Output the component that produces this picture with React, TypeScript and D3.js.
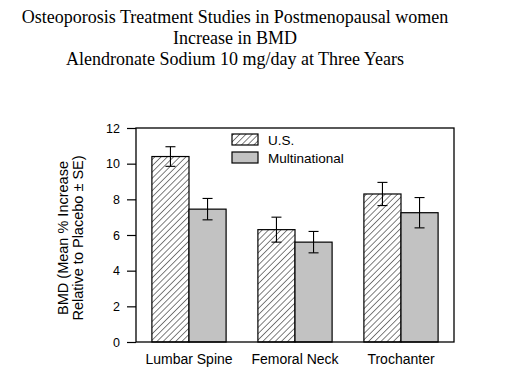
import { useEffect, useRef } from 'react';
import * as d3 from 'd3';

// Chart data
const categories = ['Lumbar Spine', 'Femoral Neck', 'Trochanter'];
const seriesNames = ['U.S.', 'Multinational'];
const usValues = [10.4, 6.3, 8.3];
const usErrors = [0.55, 0.7, 0.65];
const multiValues = [7.45, 5.6, 7.25];
const multiErrors = [0.6, 0.6, 0.85];
const yTicks = [0, 2, 4, 6, 8, 10, 12];
const titleLines = [
  'Osteoporosis Treatment Studies in Postmenopausal women',
  'Increase in BMD',
  'Alendronate Sodium 10 mg/day at Three Years',
];
const yLabelLines = ['BMD (Mean % Increase', 'Relative to Placebo \u00b1 SE)'];

const App = () => {
  const svgRef = useRef<SVGSVGElement>(null);

  useEffect(() => {
    const width = 518;
    const height = 368;
    const margin = { top: 128, right: 64, bottom: 26, left: 136 };
    const sans = 'Liberation Sans, Arial, sans-serif';

    const svg = d3.select(svgRef.current)
      .attr('width', width)
      .attr('height', height)
      .style('background-color', '#ffffff')
      .style('position', 'absolute')
      .style('left', '0px')
      .style('top', '0px');

    svg.selectAll('*').remove();

    // Patterns: hatch for U.S., gray for multinational
    const defs = svg.append('defs');
    const hatch = defs.append('pattern')
      .attr('id', 'hatch')
      .attr('patternUnits', 'userSpaceOnUse')
      .attr('width', 4.4)
      .attr('height', 4.4)
      .attr('patternTransform', 'rotate(45)');
    hatch.append('rect').attr('width', 4.4).attr('height', 4.4).attr('fill', '#ffffff');
    hatch.append('line')
      .attr('x1', 0).attr('y1', 0).attr('x2', 0).attr('y2', 4.4)
      .attr('stroke', '#000').attr('stroke-width', 1);

    const fills = ['url(#hatch)', '#c2c2c2'];

    // Scales
    const x0 = d3.scaleBand()
      .domain(categories)
      .range([margin.left, width - margin.right])
      .paddingInner(0.3)
      .paddingOuter(0.15);

    const x1 = d3.scaleBand()
      .domain(seriesNames)
      .range([0, x0.bandwidth()]);

    const y = d3.scaleLinear()
      .domain([0, 12])
      .range([height - margin.bottom, margin.top]);

    // Title
    svg.append('g')
      .selectAll('text')
      .data(titleLines)
      .enter()
      .append('text')
      .attr('x', 235)
      .attr('y', (d, i) => 23 + i * 21)
      .attr('text-anchor', 'middle')
      .style('font-family', 'Liberation Serif, Times New Roman, serif')
      .style('font-size', '18px')
      .text(d => d);

    // Bars
    const rows = categories.map((c, i) => [
      { cat: c, s: seriesNames[0], v: usValues[i], e: usErrors[i], k: 0 },
      { cat: c, s: seriesNames[1], v: multiValues[i], e: multiErrors[i], k: 1 },
    ]).flat();

    svg.append('g')
      .selectAll('rect')
      .data(rows)
      .enter()
      .append('rect')
      .attr('x', d => x0(d.cat)! + x1(d.s)!)
      .attr('y', d => y(d.v))
      .attr('width', x1.bandwidth())
      .attr('height', d => y(0) - y(d.v))
      .attr('fill', d => fills[d.k])
      .attr('stroke', '#000')
      .attr('stroke-width', 1.2);

    // Error bars
    const err = svg.append('g')
      .attr('stroke', '#000')
      .attr('stroke-width', 1.1);
    rows.forEach(d => {
      const cx = x0(d.cat)! + x1(d.s)! + x1.bandwidth() / 2;
      err.append('line')
        .attr('x1', cx).attr('x2', cx)
        .attr('y1', y(d.v + d.e)).attr('y2', y(d.v - d.e));
      [d.v + d.e, d.v - d.e].forEach(v => {
        err.append('line')
          .attr('x1', cx - 5).attr('x2', cx + 5)
          .attr('y1', y(v)).attr('y2', y(v));
      });
    });

    // Frame
    svg.append('rect')
      .attr('x', margin.left)
      .attr('y', margin.top)
      .attr('width', width - margin.left - margin.right)
      .attr('height', height - margin.top - margin.bottom)
      .attr('fill', 'none')
      .attr('stroke', '#000')
      .attr('stroke-width', 1.3);

    // Y axis
    const yAxis = svg.append('g')
      .attr('transform', `translate(${margin.left}, 0)`)
      .call(d3.axisLeft(y).tickValues(yTicks).tickSize(9).tickPadding(7).tickSizeOuter(0));
    yAxis.select('.domain').remove();
    yAxis.selectAll('line').attr('stroke-width', 1.2);
    yAxis.selectAll('text')
      .style('font-family', sans)
      .style('font-size', '12.5px')
      .attr('fill', '#000');

    // X category labels
    svg.append('g')
      .selectAll('text')
      .data(categories)
      .enter()
      .append('text')
      .attr('x', d => x0(d)! + x0.bandwidth() / 2)
      .attr('y', 364)
      .attr('text-anchor', 'middle')
      .style('font-family', sans)
      .style('font-size', '14px')
      .text(d => d);

    // Y axis label
    svg.append('g')
      .attr('transform', `translate(0, ${(margin.top + height - margin.bottom) / 2 + 3})rotate(-90)`)
      .selectAll('text')
      .data(yLabelLines)
      .enter()
      .append('text')
      .attr('x', 0)
      .attr('y', (d, i) => 68 + i * 15)
      .attr('text-anchor', 'middle')
      .style('font-family', sans)
      .style('font-size', '14.5px')
      .text(d => d);

    // Legend
    const legend = svg.append('g');
    seriesNames.forEach((name, i) => {
      const ly = 134 + i * 18;
      legend.append('rect')
        .attr('x', 232)
        .attr('y', ly)
        .attr('width', 26)
        .attr('height', 11)
        .attr('fill', fills[i])
        .attr('stroke', '#000')
        .attr('stroke-width', 1.2);
      legend.append('text')
        .attr('x', 268)
        .attr('y', ly + 10.5)
        .style('font-family', sans)
        .style('font-size', '13.5px')
        .text(name);
    });
  }, []);

  return <svg ref={svgRef}></svg>;
};

export default App;
